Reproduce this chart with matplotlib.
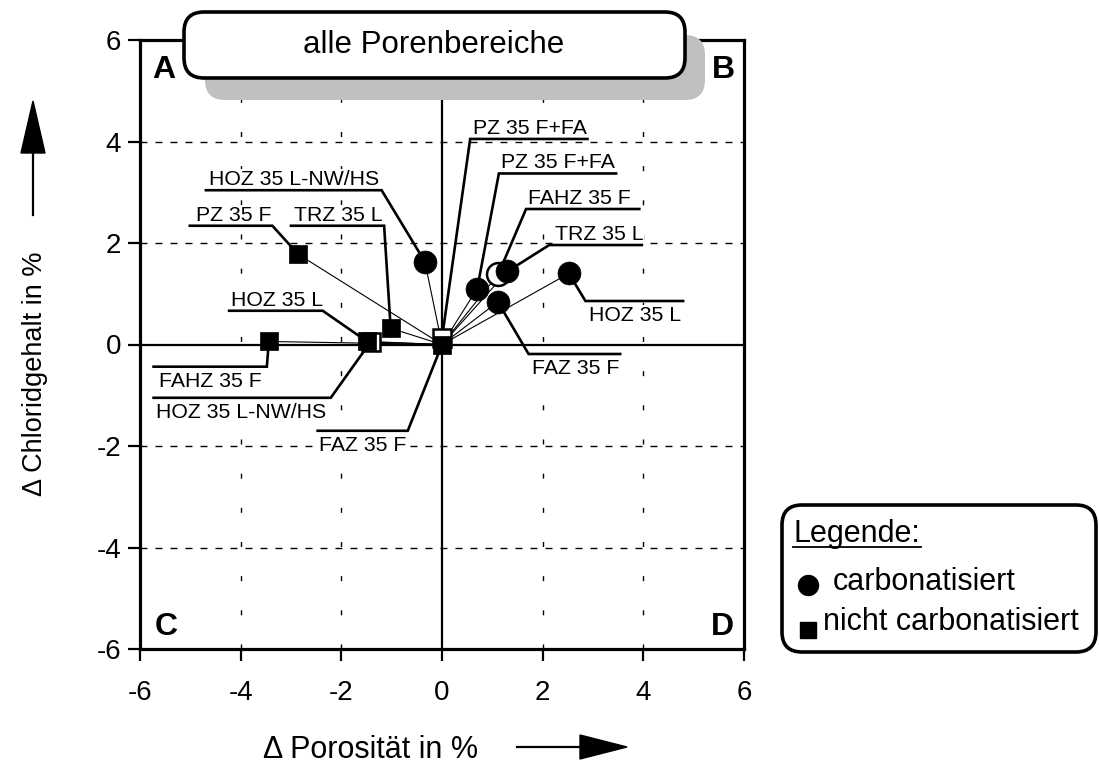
import matplotlib
matplotlib.use("Agg")
import matplotlib.pyplot as plt
from matplotlib.patches import FancyBboxPatch, Polygon

plt.rcParams['font.family'] = ['Liberation Sans', 'DejaVu Sans']

# Change of porosity and chloride content (in %) per cement type
carb_names = ["PZ 35 F+FA", "FAHZ 35 F", "TRZ 35 L", "HOZ 35 L", "FAZ 35 F", "HOZ 35 L-NW/HS"]
carb_dpor = [0.70, 1.12, 1.30, 2.52, 1.11, -0.34]
carb_dcl = [1.10, 1.39, 1.44, 1.40, 0.84, 1.63]

nc_names = ["PZ 35 F", "PZ 35 F+FA", "FAHZ 35 F", "TRZ 35 L", "HOZ 35 L", "HOZ 35 L-NW/HS", "FAZ 35 F"]
nc_dpor = [-2.86, 0.0, -3.44, -1.02, -1.49, -1.42, 0.0]
nc_dcl = [1.78, 0.13, 0.06, 0.32, 0.06, 0.05, 0.0]

x_ticks = [-6, -4, -2, 0, 2, 4, 6]
y_ticks = [-6, -4, -2, 0, 2, 4, 6]
grid_vals = [-4, -2, 2, 4]

title_text = "alle Porenbereiche"
x_label = "\u0394 Porosität in %"
y_label = "\u0394 Chloridgehalt in %"
quadrants = ["A", "B", "C", "D"]
legend_title = "Legende:"
legend_carb = "carbonatisiert"
legend_nc = "nicht carbonatisiert"

# markers drawn open (white fill) and placed behind the others
open_markers = {("carb", "FAHZ 35 F"), ("nc", "PZ 35 F+FA"), ("nc", "HOZ 35 L-NW/HS")}

# label layout: group, name, text x, underline y, underline x-range, text side
label_layout = [
    ("carb", "HOZ 35 L-NW/HS", -4.63, 3.04, -4.69, -1.20, "above"),
    ("nc", "PZ 35 F", -4.89, 2.34, -5.01, -3.37, "above"),
    ("nc", "TRZ 35 L", -2.94, 2.34, -3.00, -1.15, "above"),
    ("nc", "HOZ 35 L", -4.19, 0.665, -4.23, -2.37, "above"),
    ("nc", "FAHZ 35 F", -5.62, -0.437, -5.73, -3.48, "below"),
    ("nc", "HOZ 35 L-NW/HS", -5.69, -1.05, -5.73, -2.21, "below"),
    ("nc", "FAZ 35 F", -2.44, -1.70, -2.47, -0.68, "below"),
    ("nc", "PZ 35 F+FA", 0.61, 4.05, 0.56, 2.89, "above"),
    ("carb", "PZ 35 F+FA", 1.17, 3.37, 1.13, 3.46, "above"),
    ("carb", "FAHZ 35 F", 1.70, 2.67, 1.67, 3.92, "above"),
    ("carb", "TRZ 35 L", 2.24, 1.96, 2.13, 3.97, "above"),
    ("carb", "HOZ 35 L", 2.93, 0.857, 2.85, 4.79, "below"),
    ("carb", "FAZ 35 F", 1.78, -0.187, 1.72, 3.54, "below"),
]

W, H = 1099, 763
fig = plt.figure(figsize=(W / 100, H / 100), dpi=100)
ax = fig.add_axes([140 / W, (H - 649) / H, 604 / W, 609 / H])
ax.set_xlim(-6, 6)
ax.set_ylim(-6, 6)
ax.set_xticks(x_ticks)
ax.set_yticks(y_ticks)
ax.set_xticklabels([str(v) for v in x_ticks])
ax.set_yticklabels([str(v) for v in y_ticks])
ax.tick_params(direction='out', length=8.5, width=1.6, labelsize=20, colors='black')
ax.tick_params(axis='x', pad=14)
ax.tick_params(axis='y', pad=5)
for sp in ax.spines.values():
    sp.set_linewidth(2.3)

# dashed grid
for g in grid_vals:
    ax.plot([g, g], [-6, 6], color='black', lw=1.0, dashes=(3.6, 21.0), zorder=1)
    ax.plot([-6, 6], [g, g], color='black', lw=1.0, dashes=(5.0, 5.8), zorder=1)
ax.axhline(0, color='black', lw=1.6, zorder=2)
ax.axvline(0, color='black', lw=1.6, zorder=2)

points = {}
for n, x, y in zip(carb_names, carb_dpor, carb_dcl):
    points[("carb", n)] = (x, y)
for n, x, y in zip(nc_names, nc_dpor, nc_dcl):
    points[("nc", n)] = (x, y)

# thin vectors from the origin to every point
for (x, y) in points.values():
    ax.plot([0, x], [0, y], color='black', lw=0.8, zorder=3)

# label leaders
for grp, name, tx, ly, x0, x1, side in label_layout:
    px, py = points[(grp, name)]
    near, far = (x1, x0) if abs(x1 - px) < abs(x0 - px) else (x0, x1)
    ax.plot([far, near, px], [ly, ly, py], color='black', lw=1.9,
            solid_joinstyle='miter', zorder=4)
    dy = 3.6 if side == "above" else -14.4
    ax.annotate(name, xy=(tx, ly), xytext=(0, dy), textcoords='offset points',
                ha='left', va='baseline', fontsize=15.3, zorder=3.5,
                bbox=dict(boxstyle='square,pad=0.05', facecolor='white', edgecolor='none'))

# markers
for key, (x, y) in points.items():
    grp, name = key
    hollow = key in open_markers
    mk = 'o' if grp == "carb" else 's'
    ms = 16.5 if grp == "carb" else 13.6
    ax.plot([x], [y], marker=mk, ms=ms, linestyle='none',
            markerfacecolor='white' if hollow else 'black',
            markeredgecolor='black', markeredgewidth=1.8 if hollow else 0.5,
            zorder=5 if hollow else 7)

# overlay in pixel coordinates for frame decorations
ov = fig.add_axes([0, 0, 1, 1])
ov.set_xlim(0, W)
ov.set_ylim(H, 0)
ov.axis('off')
ov.set_zorder(10)
ov.patch.set_alpha(0)

ov.add_patch(FancyBboxPatch((205, 35), 500, 65, boxstyle="round,pad=0,rounding_size=20",
                            facecolor='#c0c0c0', edgecolor='none'))
ov.add_patch(FancyBboxPatch((184, 12), 501, 66, boxstyle="round,pad=0,rounding_size=20",
                            facecolor='white', edgecolor='black', lw=2.6))
ov.text(434, 45, title_text, ha='center', va='center', fontsize=22.5)

for lab, (qx, qy) in zip(quadrants, [(164, 70), (723, 70), (166, 627), (722, 627)]):
    ov.text(qx, qy, lab, ha='center', va='center', fontsize=23, fontweight='bold')

# axis titles with arrows
ov.text(263, 758, x_label, ha='left', va='baseline', fontsize=22)
ov.plot([517, 582], [747, 747], color='black', lw=1.6)
ov.add_patch(Polygon([(580, 735), (627, 747), (580, 759)], closed=True, color='black'))

ov.text(35, 374, y_label, ha='center', va='center', rotation=90, fontsize=19.5)
ov.plot([33, 33], [215, 150], color='black', lw=1.6)
ov.add_patch(Polygon([(21, 153), (33, 101), (45, 153)], closed=True, color='black'))

# legend
ov.add_patch(FancyBboxPatch((782, 505), 314, 147, boxstyle="round,pad=0,rounding_size=20",
                            facecolor='white', edgecolor='black', lw=2.6))
ov.text(793, 542, legend_title, ha='left', va='baseline', fontsize=22)
ov.plot([793, 921], [547, 547], color='black', lw=1.3)
ov.plot([808], [585], marker='o', ms=14.4, color='black')
ov.text(833, 590, legend_carb, ha='left', va='baseline', fontsize=22)
ov.plot([808], [630], marker='s', ms=11.5, color='black')
ov.text(823, 630, legend_nc, ha='left', va='baseline', fontsize=22)

fig.savefig("out.png", dpi=100)
